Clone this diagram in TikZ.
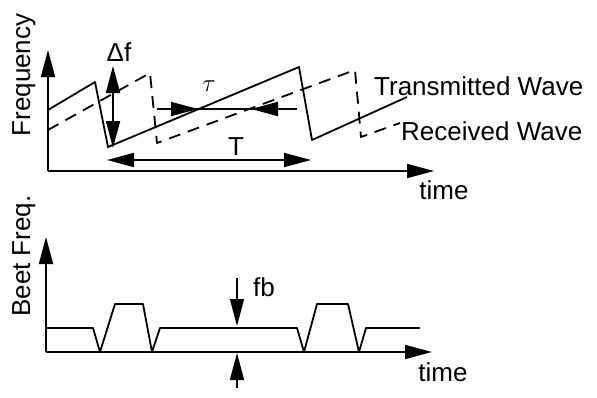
\documentclass[tikz,border=0pt]{standalone}
\usepackage{fontspec}
\setmainfont{Liberation Sans}
\usetikzlibrary{arrows.meta}
\begin{document}
\begin{tikzpicture}[x=1pt,y=-1pt,line join=round,
  ln/.style={line width=1.8pt},
  dsh/.style={line width=1.8pt,dash pattern=on 12pt off 8pt},
  tip/.style={-{Triangle[length=27pt,width=14pt]}},
  dtip/.style={{Triangle[length=27pt,width=14pt]}-{Triangle[length=27pt,width=14pt]}},
  lbl/.style={font=\fontsize{26}{30}\selectfont,inner sep=0pt},
  ylbl/.style={lbl,rotate=90}]
\useasboundingbox (0,0) rectangle (597,397);
% ---------- top plot ----------
\coordinate (o1) at (48,171);
\coordinate (y1) at (48,50);
\coordinate (x1) at (434,171);
\draw[ln,tip] (o1) -- (y1);
\draw[ln,tip] (o1) -- (x1);
% transmitted wave
\draw[ln] (48,110) -- (95,82) -- (108,147) -- (299,67) -- (312,140) -- (407,97);
% received wave
\draw[dsh] (48,130) -- (150,73) -- (157,143) -- (355,70) -- (361,137) -- (400,123);
% delta f
\coordinate (dfa) at (113,66);
\coordinate (dfb) at (113,148);
\draw[ln,dtip] (dfa) -- (dfb);
\node[lbl] (df) at (119,52) {Δf};
% tau
\coordinate (ta) at (157,109);
\coordinate (tb) at (198,109);
\coordinate (tc) at (251,109);
\coordinate (td) at (297,109);
\draw[line width=1.2pt] (ta) -- (td);
\draw[ln,tip] (ta) -- (tb);
\draw[ln,tip] (td) -- (tc);
\node[lbl] (tau) at (209,86) {$\tau$};
% T
\coordinate (Ta) at (107,160);
\coordinate (Tb) at (311,160);
\draw[ln,dtip] (Ta) -- (Tb);
\node[lbl] (T) at (236,147) {T};
% labels
\node[lbl,anchor=west] (tw) at (374,86) {Transmitted Wave};
\node[lbl,anchor=west] (rw) at (401,131) {Received Wave};
\node[lbl] (t1) at (444,190) {time};
\node[ylbl] (fq) at (24,75) {Frequency};
% ---------- bottom plot ----------
\coordinate (o2) at (46,352);
\coordinate (y2) at (46,237);
\coordinate (x2) at (432,352);
\draw[ln,tip] (o2) -- (y2);
\draw[ln,tip] (o2) -- (x2);
\draw[ln] (46,328) -- (93,328) -- (100,352) -- (115,304) -- (143,304) -- (152,352) -- (160,328)
  -- (297,328) -- (304,352) -- (317,304) -- (348,304) -- (359,352) -- (366,328) -- (420,328);
% fb
\coordinate (fa) at (237,278);
\coordinate (fbt) at (237,326);
\coordinate (fc) at (237,388);
\coordinate (fd) at (237,353);
\draw[line width=1.5pt,tip] (fa) -- (fbt);
\draw[line width=1.5pt,tip] (fc) -- (fd);
\node[lbl] (fb) at (264,287) {fb};
\node[lbl] (t2) at (443,372) {time};
\node[ylbl] (bf) at (24,256) {Beet Freq.};
\end{tikzpicture}
\end{document}
